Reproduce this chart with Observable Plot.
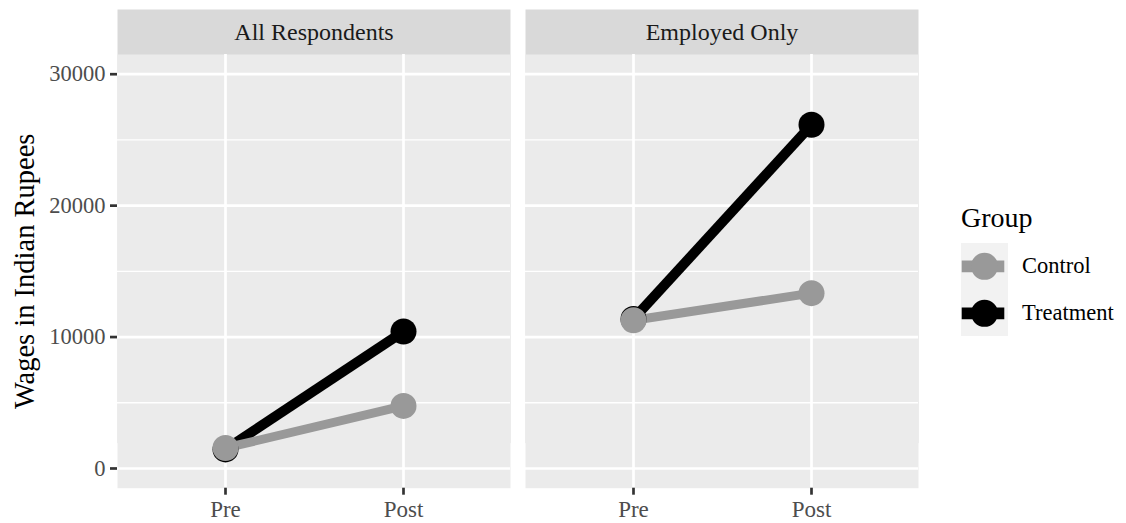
<!DOCTYPE html>
<html>
<head>
<meta charset="utf-8">
<script src="https://cdn.jsdelivr.net/npm/d3@7"></script>
<script src="https://cdn.jsdelivr.net/npm/@observablehq/plot@0.6"></script>
<style>
  html, body { margin: 0; padding: 0; background: #fff; }
  #wrap { position: relative; width: 1126px; height: 523px; font-family: "Liberation Serif", "DejaVu Serif", serif; }
  #legend { position: absolute; left: 961px; top: 204px; }
  #legend .title { font-size: 28px; color: #000; line-height: 28px; height: 39px; }
  #legend .row { display: flex; align-items: center; height: 46.7px; }
  #legend .key { width: 47px; height: 46.7px; background: #F2F2F2; }
  #legend .lab { font-size: 22.5px; color: #000; margin-left: 14px; }
</style>
</head>
<body>
<div id="wrap"></div>
<script>
// ---- data ----
const panels = ["All Respondents", "Employed Only"];
const times = ["Pre", "Post"];
const groups = ["Control", "Treatment"];
const groupColors = ["#999999", "#000000"];
// values per panel, [Pre, Post]
const controlAll = [1560, 4760];
const treatmentAll = [1450, 10420];
const controlEmployed = [11280, 13340];
const treatmentEmployed = [11380, 26150];
const yTicks = [0, 10000, 20000, 30000];
const yMinor = [5000, 15000, 25000];
const yTitle = "Wages in Indian Rupees";
const legendTitle = "Group";

const series = [
  {panel: panels[0], group: "Control", vals: controlAll},
  {panel: panels[0], group: "Treatment", vals: treatmentAll},
  {panel: panels[1], group: "Control", vals: controlEmployed},
  {panel: panels[1], group: "Treatment", vals: treatmentEmployed}
];
const data = series.flatMap(s => s.vals.map((v, i) => ({panel: s.panel, group: s.group, time: times[i], value: v})));
const ctrl = data.filter(d => d.group === "Control");
const trt = data.filter(d => d.group === "Treatment");

const W = 1126, H = 523;
const mL = 117, mR = W - 918, mT = 54, mB = H - 487.7;
const panelW = (918 - 117 - 15) / 2;
const step = panelW + 15;

const plot = Plot.plot({
  width: W,
  height: H,
  marginLeft: mL,
  marginRight: mR,
  marginTop: mT,
  marginBottom: mB,
  style: {fontFamily: "'Liberation Serif', serif", background: "transparent"},
  fx: {domain: panels, paddingInner: 15 / step, paddingOuter: 0, axis: null, label: null},
  x: {type: "point", domain: times, padding: 0.6, label: null},
  y: {domain: [-1500, 31500], label: null},
  color: {domain: groups, range: groupColors},
  marks: [
    // strip background (frame shifted up above the panel)
    Plot.frame({fill: "#D9D9D9", stroke: null, dy: -45}),
    // panel background
    Plot.frame({fill: "#EBEBEB", stroke: null}),
    Plot.gridY(yMinor, {stroke: "#ffffff", strokeOpacity: 1, strokeWidth: 1.3}),
    Plot.gridY(yTicks, {stroke: "#ffffff", strokeOpacity: 1, strokeWidth: 2.7}),
    Plot.gridX(times, {stroke: "#ffffff", strokeOpacity: 1, strokeWidth: 2.7}),
    Plot.axisY(yTicks, {anchor: "left", tickSize: 7, tickPadding: 5, strokeWidth: 2.7, stroke: "#333333",
      fill: "#4D4D4D", fontSize: 22.5, label: null, tickFormat: d => String(d)}),
    Plot.axisX(times, {anchor: "bottom", tickSize: 7, tickPadding: 5, strokeWidth: 2.7, stroke: "#333333",
      fill: "#4D4D4D", fontSize: 23, label: null}),
    // strip labels
    Plot.text(panels, {fx: d => d, text: d => d, frameAnchor: "top", dy: -22.5, lineAnchor: "middle",
      fill: "#1A1A1A", fontSize: 24}),
    // y title
    Plot.text([yTitle], {fx: () => panels[0], text: d => d, frameAnchor: "left", dx: -93, rotate: -90,
      textAnchor: "middle", lineAnchor: "middle", fill: "#000", fontSize: 28.5}),
    // lines
    Plot.line(trt, {fx: "panel", x: "time", y: "value", stroke: "group", strokeWidth: 10, strokeLinecap: "butt"}),
    Plot.line(ctrl, {fx: "panel", x: "time", y: "value", stroke: "group", strokeWidth: 9, strokeLinecap: "butt"}),
    // points
    Plot.dot(trt, {fx: "panel", x: "time", y: "value", fill: "group", r: 13, stroke: null}),
    Plot.dot(ctrl, {fx: "panel", x: "time", y: "value", fill: "group", r: 13, stroke: null})
  ]
});

const wrap = document.getElementById("wrap");
wrap.appendChild(plot);

// legend
const legend = document.createElement("div");
legend.id = "legend";
const t = document.createElement("div");
t.className = "title";
t.textContent = legendTitle;
legend.appendChild(t);
groups.forEach((g, i) => {
  const row = document.createElement("div");
  row.className = "row";
  const key = document.createElement("div");
  key.className = "key";
  const svg = d3.create("svg").attr("width", 47).attr("height", 46.7);
  svg.append("line").attr("x1", 0.7).attr("x2", 43.3).attr("y1", 23.35).attr("y2", 23.35)
    .attr("stroke", groupColors[i]).attr("stroke-width", 11.7);
  svg.append("circle").attr("cx", 23.5).attr("cy", 23.35).attr("r", 13.5).attr("fill", groupColors[i]);
  key.appendChild(svg.node());
  const lab = document.createElement("div");
  lab.className = "lab";
  lab.textContent = g;
  row.appendChild(key);
  row.appendChild(lab);
  legend.appendChild(row);
});
wrap.appendChild(legend);
</script>
</body>
</html>
